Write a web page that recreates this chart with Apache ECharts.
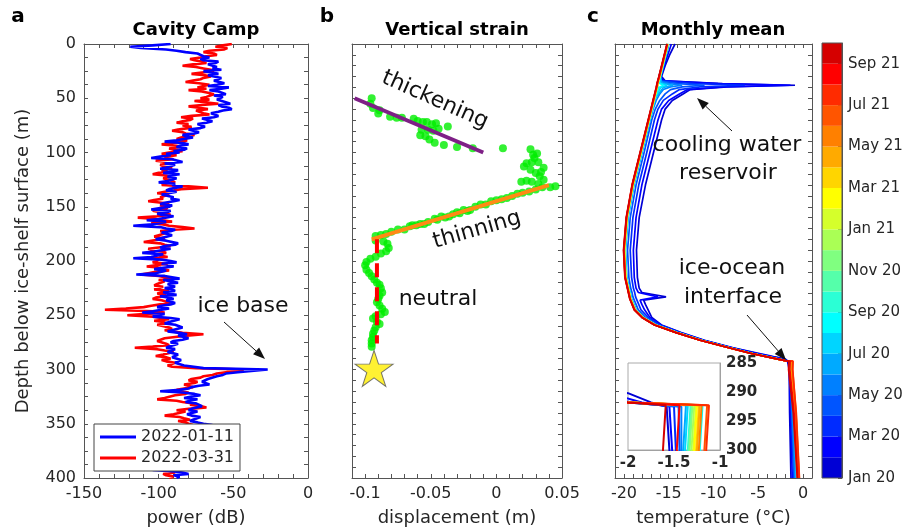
<!DOCTYPE html>
<html><head><meta charset="utf-8">
<script src="https://cdn.jsdelivr.net/npm/echarts@6/dist/echarts.min.js"></script>
<style>html,body{margin:0;padding:0;background:#fff}#c{width:905px;height:531px}</style>
</head><body><div id="c"></div><script>
// ---------------- Panel a : radar power profiles (depth step 1.25 m) ----------------
const depthA = [
0,1.25,2.5,3.75,5,6.25,7.5,8.75,10,11.25,12.5,13.75,15,16.25,17.5,18.75,20,21.25,22.5,23.75,
25,26.25,27.5,28.75,30,31.25,32.5,33.75,35,36.25,37.5,38.75,40,41.25,42.5,43.75,45,46.25,47.5,48.75,
50,51.25,52.5,53.75,55,56.25,57.5,58.75,60,61.25,62.5,63.75,65,66.25,67.5,68.75,70,71.25,72.5,73.75,
75,76.25,77.5,78.75,80,81.25,82.5,83.75,85,86.25,87.5,88.75,90,91.25,92.5,93.75,95,96.25,97.5,98.75,
100,101.25,102.5,103.75,105,106.25,107.5,108.75,110,111.25,112.5,113.75,115,116.25,117.5,118.75,120,121.25,122.5,123.75,
125,126.25,127.5,128.75,130,131.25,132.5,133.75,135,136.25,137.5,138.75,140,141.25,142.5,143.75,145,146.25,147.5,148.75,
150,151.25,152.5,153.75,155,156.25,157.5,158.75,160,161.25,162.5,163.75,165,166.25,167.5,168.75,170,171.25,172.5,173.75,
175,176.25,177.5,178.75,180,181.25,182.5,183.75,185,186.25,187.5,188.75,190,191.25,192.5,193.75,195,196.25,197.5,198.75,
200,201.25,202.5,203.75,205,206.25,207.5,208.75,210,211.25,212.5,213.75,215,216.25,217.5,218.75,220,221.25,222.5,223.75,
225,226.25,227.5,228.75,230,231.25,232.5,233.75,235,236.25,237.5,238.75,240,241.25,242.5,243.75,245,246.25,247.5,248.75,
250,251.25,252.5,253.75,255,256.25,257.5,258.75,260,261.25,262.5,263.75,265,266.25,267.5,268.75,270,271.25,272.5,273.75,
275,276.25,277.5,278.75,280,281.25,282.5,283.75,285,286.25,287.5,288.75,290,291.25,292.5,293.75,295,296.25,297.5,298.75,
300,301.25,302.5,303.75,305,306.25,307.5,308.75,310,311.25,312.5,313.75,315,316.25,317.5,318.75,320,321.25,322.5,323.75,
325,326.25,327.5,328.75,330,331.25,332.5,333.75,335,336.25,337.5,338.75,340,341.25,342.5,343.75,345,346.25,347.5,348.75,
350,351.25,352.5,353.75,355,356.25,357.5,358.75,360,361.25,362.5,363.75,365,366.25,367.5,368.75,370,371.25,372.5,373.75,
375,376.25,377.5,378.75,380,381.25,382.5,383.75,385,386.25,387.5,388.75,390,391.25,392.5,393.75,395,396.25,397.5,398.75,
400];
const power20220111 = [
-92,-104,-119,-112,-95,-88,-82,-74,-75,-70,-66,-72,-70,-60,-62,-67,-68,-61,-64,-58,
-70,-64,-60,-67,-66,-58,-57,-63,-64,-56,-61,-67,-53,-58,-66,-60,-59,-55,-63,-57,
-56,-61,-62,-55,-52,-60,-58,-53,-51,-57,-60,-65,-66,-60,-63,-71,-70,-64,-68,-74,
-75,-69,-72,-80,-79,-73,-76,-84,-82,-77,-78,-88,-96,-84,-80,-86,-88,-81,-83,-90,
-86,-95,-92,-99,-105,-91,-90,-84,-96,-89,-88,-95,-99,-87,-90,-97,-86,-92,-94,-88,
-88,-94,-100,-89,-91,-84,-85,-93,-95,-88,-89,-98,-97,-90,-92,-86,-90,-96,-99,-91,
-93,-99,-105,-92,-94,-101,-98,-90,-91,-100,-108,-95,-96,-104,-117,-99,-95,-89,-92,-98,
-97,-91,-90,-98,-102,-95,-94,-87,-89,-96,-99,-92,-93,-103,-111,-97,-96,-105,-117,-98,
-92,-88,-98,-93,-90,-97,-103,-95,-94,-102,-115,-96,-91,-86,-97,-92,-87,-94,-93,-89,
-96,-91,-89,-97,-94,-88,-99,-93,-90,-95,-96,-89,-92,-98,-101,-93,-94,-104,-111,-96,
-97,-104,-92,-86,-87,-93,-96,-89,-90,-84,-85,-91,-94,-86,-81,-87,-88,-80,-84,-90,
-92,-87,-86,-93,-95,-89,-88,-94,-93,-87,-86,-91,-90,-85,-84,-89,-88,-83,-82,-70,
-27,-38,-47,-55,-57,-61,-62,-67,-66,-71,-70,-66,-73,-78,-80,-86,-99,-84,-76,-72,
-78,-83,-74,-79,-82,-75,-76,-71,-72,-78,-80,-74,-75,-81,-78,-72,-73,-77,-79,-74,
-70,-64,-57,-68,-74,-79,-78,-84,-82,-77,-76,-81,-80,-66,-48,-72,-83,-79,-78,-84,
-85,-79,-80,-86,-88,-82,-83,-91,-90,-84,-86,-93,-92,-98,-104,-91,-84,-80,-90,-86,
-88];
const power20220331 = [
-51,-57,-62,-54,-56,-66,-70,-63,-61,-68,-72,-79,-76,-71,-68,-77,-84,-75,-70,-65,
-63,-71,-78,-69,-65,-70,-72,-77,-82,-73,-66,-70,-74,-68,-80,-71,-67,-63,-62,-68,
-72,-66,-76,-69,-60,-71,-80,-73,-67,-75,-74,-70,-66,-78,-85,-77,-79,-84,-88,-80,
-84,-78,-80,-87,-91,-84,-82,-76,-77,-85,-88,-81,-83,-91,-98,-88,-85,-93,-90,-84,
-93,-98,-88,-94,-96,-90,-102,-95,-92,-99,-97,-91,-90,-98,-94,-100,-104,-95,-92,-97,
-96,-91,-89,-95,-98,-80,-67,-85,-90,-96,-101,-93,-94,-99,-97,-103,-107,-98,-93,-99,
-100,-94,-96,-104,-103,-95,-92,-101,-114,-102,-97,-91,-105,-97,-93,-84,-76,-90,-99,-94,
-95,-100,-103,-96,-98,-104,-110,-99,-96,-92,-100,-107,-104,-97,-95,-101,-99,-94,-106,-100,
-99,-104,-94,-101,-108,-99,-97,-93,-102,-107,-112,-100,-96,-91,-100,-96,-95,-101,-103,-97,
-98,-103,-93,-97,-101,-95,-97,-102,-104,-98,-95,-92,-99,-105,-110,-122,-136,-103,-96,-108,
-121,-104,-98,-93,-103,-97,-94,-101,-100,-93,-91,-96,-97,-84,-70,-81,-89,-96,-95,-101,
-100,-95,-93,-104,-116,-101,-96,-90,-90,-97,-102,-95,-92,-98,-95,-89,-88,-94,-91,-75,
-43,-49,-55,-61,-64,-70,-72,-78,-80,-74,-76,-83,-84,-77,-78,-88,-86,-80,-82,-89,
-90,-96,-101,-88,-84,-77,-79,-72,-68,-80,-88,-82,-81,-90,-96,-86,-83,-79,-87,-82,
-80,-77,-75,-81,-83,-89,-86,-80,-79,-85,-84,-88,-90,-84,-85,-79,-81,-87,-88,-84,
-90,-85,-86,-94,-93,-87,-88,-96,-95,-106,-117,-99,-92,-100,-98,-91,-89,-97,-95,-90,
-93];
const legendNames = ['2022-01-11','2022-03-31'];

// ---------------- Panel b : vertical strain ----------------
const greenThickening = [[-0.095,50],[-0.096,55],[-0.094,59],[-0.090,64],[-0.089,61],[-0.081,67],[-0.076,68],[-0.072,68],[-0.063,69],[-0.060,71],[-0.056,72],[-0.053,72],[-0.049,74],[-0.046,73],[-0.044,78],[-0.037,76],[-0.057,79],[-0.052,79],[-0.048,80],[-0.058,84],[-0.054,85],[-0.051,88],[-0.047,91],[-0.040,93],[-0.030,95],[-0.018,96],[0.005,96]];
const greenUpperCluster = [[0.026,97],[0.028,102],[0.031,101],[0.023,110],[0.021,113],[0.027,109],[0.032,109],[0.036,114],[0.026,116],[0.030,119],[0.033,122],[0.019,127],[0.023,126],[0.027,127],[0.032,129],[0.041,132],[0.045,131],[0.036,125],[0.029,105],[0.034,118]];
const greenThinning = [[-0.092,177],[-0.088,176],[-0.084,175],[-0.080,173],[-0.075,171],[-0.070,171],[-0.066,168],[-0.064,167],[-0.061,167],[-0.058,166],[-0.055,166],[-0.052,164],[-0.047,161],[-0.045,162],[-0.042,159],[-0.039,160],[-0.036,159],[-0.033,157],[-0.030,155],[-0.028,156],[-0.025,153],[-0.022,154],[-0.020,153],[-0.016,150],[-0.012,148],[-0.008,148],[-0.004,145],[0.000,144],[0.004,143],[0.008,142],[0.012,140],[0.016,138],[0.020,137],[0.025,136],[0.030,134],[0.035,132]];
const greenNeutral = [[-0.092,181],[-0.086,182],[-0.083,184],[-0.082,188],[-0.084,191],[-0.088,193],[-0.092,196],[-0.096,198],[-0.099,201],[-0.100,204],[-0.099,208],[-0.097,211],[-0.095,214],[-0.093,217],[-0.091,220],[-0.089,222],[-0.088,225],[-0.087,229],[-0.089,232],[-0.090,235],[-0.091,238],[-0.089,241],[-0.087,244],[-0.085,247],[-0.088,249],[-0.092,251],[-0.094,253],[-0.091,256],[-0.089,258],[-0.092,261],[-0.093,264],[-0.094,267],[-0.094,270],[-0.095,273],[-0.095,276],[-0.095,279]];
const thickeningFit = [[-0.108,50],[-0.010,100]];
const thinningFit = [[-0.095,180],[0.040,130]];
const neutralFit = [[-0.091,180],[-0.091,276]];
const iceBaseStar = [[-0.0932,299]];
const tickValuesB = [-0.1,-0.05,0,0.05];
const tickLabelsB = ['-0.1','-0.05','0','0.05'];

// ---------------- Panel c : monthly mean temperature ----------------
const monthNames = ['Jan 20','Feb 20','Mar 20','Apr 20','May 20','Jun 20','Jul 20','Aug 20','Sep 20','Oct 20','Nov 20','Dec 20','Jan 21','Feb 21','Mar 21','Apr 21','May 21','Jun 21','Jul 21','Aug 21','Sep 21'];
const jetColors = ['#0000d5','#0000ff','#002bff','#0055ff','#0080ff','#00aaff','#00d5ff','#00ffff','#2bffd5','#55ffaa','#80ff80','#aaff55','#d5ff2b','#ffff00','#ffd500','#ffaa00','#ff8000','#ff5500','#ff2b00','#ff0000','#d50000'];
const colorbarLabels = ['Jan 20','Mar 20','May 20','Jul 20','Sep 20','Nov 20','Jan 21','Mar 21','May 21','Jul 21','Sep 21'];

const depthEarly = [0,10,20,30,34,36.5,38,39.5,42,46,52,60,70,100,130,160,190,215,225,229,233,236,240,245,252,259,266,273,280,285,288,290.2,291.8,292.5,300,340,400];
const tJan20 = [-14.3,-14.9,-15.4,-15.8,-15.4,-9.0,-0.9,-8.5,-12.6,-13.4,-14.6,-15.4,-15.8,-16.7,-17.6,-18.3,-18.6,-18.5,-18.3,-18.0,-15.3,-17.8,-17.6,-17.3,-16.9,-15.8,-13.6,-11.0,-7.8,-5.0,-3.3,-2.0,-1.75,-1.58,-1.55,-1.5,-1.35];
const tFeb20 = [-14.7,-15.1,-15.5,-15.9,-15.6,-9.5,-1.4,-9.0,-12.9,-13.8,-15.0,-15.8,-16.2,-17.1,-18.0,-18.65,-18.95,-18.85,-18.65,-18.4,-16.2,-18.2,-18.0,-17.7,-17.1,-15.9,-13.7,-11.1,-7.9,-5.2,-3.5,-2.2,-1.85,-1.55,-1.52,-1.4,-1.2];
const tMar20 = [-15.0,-15.3,-15.6,-16.0,-15.9,-12.0,-6.5,-11.5,-13.8,-14.6,-15.6,-16.2,-16.6,-17.45,-18.35,-19.0,-19.3,-19.15,-18.95,-18.8,-18.7,-18.55,-18.35,-18.1,-17.3,-16.0,-13.8,-11.2,-8.0,-5.5,-3.8,-2.6,-1.95,-1.5,-1.48,-1.3,-1.05];
const tApr20 = [-15.1,-15.4,-15.7,-16.05,-16.0,-14.0,-11.0,-13.5,-14.8,-15.4,-16.0,-16.5,-16.9,-17.75,-18.65,-19.3,-19.6,-19.45,-19.25,-19.1,-19.0,-18.85,-18.65,-18.4,-17.6,-16.2,-13.9,-11.3,-8.1,-5.7,-3.9,-2.7,-2.0,-1.45,-1.44,-1.25,-0.95];
const tMay20 = [-15.15,-15.45,-15.75,-16.1,-16.1,-15.0,-13.5,-14.8,-15.6,-16.0,-16.4,-16.75,-17.1,-18.0,-18.9,-19.55,-19.85,-19.7,-19.5,-19.35,-19.25,-19.1,-18.9,-18.65,-17.8,-16.4,-14.0,-11.4,-8.2,-5.8,-4.0,-2.8,-2.0,-1.42,-1.42,-1.2,-0.9];

const depthLate = [0,15,30,36,38,40,50,70,100,130,160,190,215,235,245,252,259,266,273,280,285,289,291.8,292.3,300,340,400];
const tJun20 = [-15.0,-15.45,-15.9,-15.8,-14.5,-15.6,-16.5,-17.1,-18.0,-18.9,-19.55,-19.85,-19.7,-19.15,-18.65,-17.8,-16.4,-14.0,-11.35,-8.2,-5.8,-3.5,-2.0,-1.37,-1.40,-1.1,-0.75];
const tJul20 = [-15.03,-15.48,-15.93,-16.0,-15.2,-15.9,-16.53,-17.13,-18.03,-18.93,-19.58,-19.88,-19.73,-19.18,-18.68,-17.83,-16.43,-14.03,-11.37,-8.22,-5.82,-3.52,-2.0,-1.35,-1.38,-1.05,-0.7];
const tAug20 = [-15.05,-15.5,-15.95,-16.1,-15.6,-16.1,-16.55,-17.15,-18.05,-18.95,-19.6,-19.9,-19.75,-19.2,-18.7,-17.85,-16.45,-14.05,-11.38,-8.23,-5.83,-3.53,-2.0,-1.19,-1.22,-0.9,-0.55];
const tSep20 = [-15.07,-15.52,-15.97,-16.17,-16.22,-16.27,-16.57,-17.17,-18.07,-18.97,-19.62,-19.92,-19.77,-19.22,-18.72,-17.87,-16.47,-14.07,-11.4,-8.24,-5.84,-3.54,-2.0,-1.32,-1.35,-1.0,-0.65];
const tOct20 = [-15.08,-15.53,-15.98,-16.18,-16.23,-16.28,-16.58,-17.18,-18.08,-18.98,-19.63,-19.93,-19.78,-19.23,-18.73,-17.88,-16.48,-14.08,-11.41,-8.25,-5.85,-3.55,-2.0,-1.31,-1.34,-0.98,-0.62];
const tNov20 = [-15.09,-15.54,-15.99,-16.19,-16.24,-16.29,-16.59,-17.19,-18.09,-18.99,-19.64,-19.94,-19.79,-19.24,-18.74,-17.89,-16.49,-14.09,-11.42,-8.26,-5.86,-3.56,-2.0,-1.3,-1.33,-0.96,-0.6];
const tDec20 = [-15.1,-15.55,-16.0,-16.2,-16.25,-16.3,-16.6,-17.2,-18.1,-19.0,-19.65,-19.95,-19.8,-19.25,-18.75,-17.9,-16.5,-14.1,-11.43,-8.27,-5.87,-3.57,-2.0,-1.28,-1.31,-0.94,-0.58];
const tJan21 = [-15.11,-15.56,-16.01,-16.21,-16.26,-16.31,-16.61,-17.21,-18.11,-19.01,-19.66,-19.96,-19.81,-19.26,-18.76,-17.91,-16.51,-14.11,-11.44,-8.27,-5.87,-3.57,-2.0,-1.26,-1.29,-0.92,-0.56];
const tFeb21 = [-15.12,-15.57,-16.02,-16.22,-16.27,-16.32,-16.62,-17.22,-18.12,-19.02,-19.67,-19.97,-19.82,-19.27,-18.77,-17.92,-16.52,-14.12,-11.45,-8.28,-5.88,-3.58,-2.0,-1.25,-1.28,-0.9,-0.54];
const tMar21 = [-15.13,-15.58,-16.03,-16.23,-16.28,-16.33,-16.63,-17.23,-18.13,-19.03,-19.68,-19.98,-19.83,-19.28,-18.78,-17.93,-16.53,-14.13,-11.46,-8.28,-5.88,-3.58,-2.0,-1.23,-1.26,-0.86,-0.5];
const tApr21 = [-15.14,-15.59,-16.04,-16.24,-16.29,-16.34,-16.64,-17.24,-18.14,-19.04,-19.69,-19.99,-19.84,-19.29,-18.79,-17.94,-16.54,-14.14,-11.47,-8.29,-5.89,-3.59,-2.0,-1.22,-1.25,-0.84,-0.48];
const tMay21 = [-15.15,-15.6,-16.05,-16.25,-16.3,-16.35,-16.65,-17.25,-18.15,-19.05,-19.7,-20.0,-19.85,-19.3,-18.8,-17.95,-16.55,-14.15,-11.48,-8.29,-5.89,-3.59,-2.0,-1.2,-1.23,-0.8,-0.45];
const tJun21 = [-15.16,-15.61,-16.06,-16.26,-16.31,-16.36,-16.66,-17.26,-18.16,-19.06,-19.71,-20.01,-19.86,-19.31,-18.81,-17.96,-16.56,-14.16,-11.48,-8.3,-5.9,-3.6,-2.0,-1.14,-1.17,-0.75,-0.4];
const tJul21 = [-15.17,-15.62,-16.07,-16.27,-16.32,-16.37,-16.67,-17.27,-18.17,-19.07,-19.72,-20.02,-19.87,-19.32,-18.82,-17.97,-16.57,-14.17,-11.49,-8.3,-5.9,-3.6,-2.0,-1.12,-1.15,-0.78,-0.42];
const tAug21 = [-15.18,-15.63,-16.08,-16.28,-16.33,-16.38,-16.68,-17.28,-18.18,-19.08,-19.73,-20.03,-19.88,-19.33,-18.83,-17.98,-16.58,-14.18,-11.5,-8.3,-5.9,-3.6,-2.0,-1.44,-1.47,-1.0,-0.6];
const tSep21 = [-15.2,-15.65,-16.1,-16.3,-16.35,-16.4,-16.7,-17.3,-18.2,-19.1,-19.75,-20.05,-19.9,-19.35,-18.85,-18.0,-16.6,-14.2,-11.5,-8.3,-5.9,-3.6,-2.0,-1.59,-1.62,-1.1,-0.65];

const monthlyProfiles = [
  [depthEarly,tJan20],[depthEarly,tFeb20],[depthEarly,tMar20],[depthEarly,tApr20],[depthEarly,tMay20],
  [depthLate,tJun20],[depthLate,tJul20],[depthLate,tAug20],[depthLate,tSep20],[depthLate,tOct20],
  [depthLate,tNov20],[depthLate,tDec20],[depthLate,tJan21],[depthLate,tFeb21],[depthLate,tMar21],
  [depthLate,tApr21],[depthLate,tMay21],[depthLate,tJun21],[depthLate,tJul21],[depthLate,tAug21],[depthLate,tSep21]
];

// ---------------- styling helpers ----------------
const FONT = '"DejaVu Sans", sans-serif';
const AX = '#555';
const TXT = '#262626';
function axis(o) {
  return Object.assign({
    type: 'value',
    axisLine: {show: true, onZero: false, lineStyle: {color: AX, width: 1}},
    axisTick: {show: true, inside: true, length: 4, lineStyle: {color: AX}},
    splitLine: {show: false},
    axisLabel: {show: false}
  }, o);
}
function lbl(fmt, extra) {
  return Object.assign({show: true, fontSize: 16, fontFamily: FONT, color: TXT, margin: 8, formatter: fmt}, extra || {});
}
const depthFmt = v => (v % 50 === 0 ? String(v) : '');

const xAxes = [
  axis({gridIndex: 0, position: 'bottom', min: -150, max: 0, interval: 10,
        axisLabel: lbl(v => (Math.round(v) % 50 === 0 ? String(Math.round(v)) : '')),
        name: 'power (dB)', nameLocation: 'middle', nameGap: 31,
        nameTextStyle: {fontSize: 18, fontFamily: FONT, color: TXT}}),
  axis({gridIndex: 0, position: 'top', min: -150, max: 0, interval: 10}),
  axis({gridIndex: 1, position: 'bottom', min: -0.11, max: 0.05, interval: 0.01,
        axisLabel: lbl(v => { const k = Math.round(v * 100); const i = tickValuesB.findIndex(t => Math.round(t * 100) === k); return i >= 0 ? tickLabelsB[i] : ''; }),
        name: 'displacement (m)', nameLocation: 'middle', nameGap: 31,
        nameTextStyle: {fontSize: 18, fontFamily: FONT, color: TXT}}),
  axis({gridIndex: 1, position: 'top', min: -0.11, max: 0.05, interval: 0.01}),
  axis({gridIndex: 2, position: 'bottom', min: -21, max: 1, interval: 1,
        axisLabel: lbl(v => (Math.round(v) % 5 === 0 ? String(Math.round(v)) : '')),
        name: 'temperature (°C)', nameLocation: 'middle', nameGap: 31,
        nameTextStyle: {fontSize: 18, fontFamily: FONT, color: TXT}}),
  axis({gridIndex: 2, position: 'top', min: -21, max: 1, interval: 1}),
  axis({gridIndex: 3, position: 'bottom', min: -2, max: -1, interval: 0.5,
        axisLine: {show: true, onZero: false, lineStyle: {color: '#999'}},
        axisTick: {show: true, inside: true, length: 3, lineStyle: {color: '#999'}},
        splitLine: {show: true, lineStyle: {color: '#d8d8d8'}},
        axisLabel: lbl(v => String(v), {fontSize: 15, fontWeight: 'bold', margin: 6})}),
  {type: 'value', gridIndex: 4, min: 0, max: 1, show: false}
];
const yAxes = [
  axis({gridIndex: 0, position: 'left', min: 0, max: 400, interval: 12.5, inverse: true,
        axisLabel: lbl(depthFmt),
        name: 'Depth below ice-shelf surface (m)', nameLocation: 'middle', nameGap: 52, nameRotate: 90,
        nameTextStyle: {fontSize: 18, fontFamily: FONT, color: TXT}}),
  axis({gridIndex: 0, position: 'right', min: 0, max: 400, interval: 12.5, inverse: true}),
  axis({gridIndex: 1, position: 'left', min: 0, max: 400, interval: 10, inverse: true}),
  axis({gridIndex: 1, position: 'right', min: 0, max: 400, interval: 10, inverse: true}),
  axis({gridIndex: 2, position: 'left', min: 0, max: 400, interval: 10, inverse: true}),
  axis({gridIndex: 2, position: 'right', min: 0, max: 400, interval: 10, inverse: true}),
  axis({gridIndex: 3, position: 'right', min: 285, max: 300, interval: 5, inverse: true,
        axisLine: {show: true, onZero: false, lineStyle: {color: '#999'}},
        axisTick: {show: true, inside: true, length: 3, lineStyle: {color: '#999'}},
        splitLine: {show: true, lineStyle: {color: '#d8d8d8'}},
        axisLabel: lbl(v => String(v), {fontSize: 15, fontWeight: 'bold', margin: 6})}),
  {type: 'category', gridIndex: 4, data: monthNames, show: false},
  axis({gridIndex: 4, position: 'right', min: 0, max: 21, interval: 2,
        axisLabel: lbl(v => (v % 2 === 0 && v / 2 < colorbarLabels.length ? colorbarLabels[v / 2] : ''), {fontSize: 15, margin: 6})})
];

const grids = [
  {left: 84, top: 44, width: 224, height: 434},
  {left: 352, top: 44, width: 210, height: 434},
  {left: 615, top: 44, width: 197, height: 434},
  {left: 628, top: 363, width: 92, height: 87, show: true, backgroundColor: '#fff', borderColor: '#aaa', borderWidth: 1, z: 5},
  {left: 822, top: 43, width: 20, height: 435, show: true, borderColor: '#555', borderWidth: 1, backgroundColor: 'transparent', z: 3}
].map(g => Object.assign({containLabel: false, outerBoundsMode: 'none'}, g));

const series = [];
series.push({name: legendNames[1], type: 'line', xAxisIndex: 0, yAxisIndex: 0, symbol: 'none', color: '#ff0000',
  lineStyle: {color: '#ff0000', width: 2.6}, data: depthA.map((d, i) => [power20220331[i], d]), z: 2});
series.push({name: legendNames[0], type: 'line', xAxisIndex: 0, yAxisIndex: 0, symbol: 'none', color: '#0000ff',
  lineStyle: {color: '#0000ff', width: 2.6}, data: depthA.map((d, i) => [power20220111[i], d]), z: 3});
const green = {type: 'scatter', xAxisIndex: 2, yAxisIndex: 2, symbol: 'circle', symbolSize: 8, itemStyle: {color: '#00ee00'}, z: 2};
[greenThickening, greenUpperCluster, greenThinning, greenNeutral].forEach(arr => series.push(Object.assign({}, green, {data: arr})));
series.push({type: 'line', xAxisIndex: 2, yAxisIndex: 2, symbol: 'none', data: thickeningFit, lineStyle: {color: '#7e1f86', width: 4}, z: 3});
series.push({type: 'line', xAxisIndex: 2, yAxisIndex: 2, symbol: 'none', data: thinningFit, lineStyle: {color: '#ff8a14', width: 4}, z: 3});
series.push({type: 'line', xAxisIndex: 2, yAxisIndex: 2, symbol: 'none', data: neutralFit, lineStyle: {color: '#ff0000', width: 4, type: [14, 10]}, z: 3});
series.push({type: 'scatter', xAxisIndex: 2, yAxisIndex: 2, data: iceBaseStar, z: 4,
  symbol: 'path://M50,0 L61.8,36.2 L100,36.2 L69.1,58.6 L80.9,95 L50,72.4 L19.1,95 L30.9,58.6 L0,36.2 L38.2,36.2 Z',
  symbolSize: [38, 36], itemStyle: {color: '#ffee00', borderColor: '#555', borderWidth: 1}});
monthlyProfiles.forEach((p, i) => {
  const data = p[0].map((d, j) => [p[1][j], d]);
  series.push({name: monthNames[i], type: 'line', xAxisIndex: 4, yAxisIndex: 4, symbol: 'none', data,
    lineStyle: {color: jetColors[i], width: 1.7}, z: 2});
  series.push({name: monthNames[i], type: 'line', xAxisIndex: 6, yAxisIndex: 6, symbol: 'none', data, clip: true,
    lineStyle: {color: jetColors[i], width: 2}, z: 6});
});
series.push({type: 'bar', xAxisIndex: 7, yAxisIndex: 7, barCategoryGap: '0%', barWidth: '100%',
  data: jetColors.map(c => ({value: 1, itemStyle: {color: c}})), z: 2});

function text(t, x, y, size, opts) {
  return Object.assign({type: 'text', x, y, z: 100,
    style: {text: t, fontSize: size, fontFamily: FONT, fill: '#111', align: 'center', verticalAlign: 'middle'}}, opts || {});
}
function bold(t, x, y, size) {
  const e = text(t, x, y, size); e.style.fontWeight = 'bold'; e.style.fill = '#000'; return e;
}
function arrow(x1, y1, x2, y2) {
  const a = Math.atan2(y2 - y1, x2 - x1), L = 12, W = 4.5;
  const bx = x2 - L * Math.cos(a), by = y2 - L * Math.sin(a);
  const px = -Math.sin(a) * W, py = Math.cos(a) * W;
  return [
    {type: 'line', z: 100, shape: {x1, y1, x2: bx, y2: by}, style: {stroke: '#111', lineWidth: 1}},
    {type: 'polygon', z: 100, shape: {points: [[x2, y2], [bx + px, by + py], [bx - px, by - py]]}, style: {fill: '#111'}}
  ];
}
const graphics = [
  bold('a', 18, 17, 20), bold('b', 327, 17, 20), bold('c', 593, 17, 20),
  bold('Cavity Camp', 196, 30, 18), bold('Vertical strain', 457, 30, 18), bold('Monthly mean', 713, 30, 18),
  text('ice base', 243, 306, 22),
  ...arrow(224, 322, 265, 359),
  Object.assign(text('thickening', 435, 100, 22), {rotation: -24 * Math.PI / 180}),
  Object.assign(text('thinning', 477, 230, 22), {rotation: 16 * Math.PI / 180}),
  text('neutral', 438, 299, 22),
  text('cooling water', 727, 145, 22),
  text('reservoir', 728, 173, 22),
  ...arrow(732, 131, 697, 98),
  text('ice-ocean', 732, 268, 22),
  text('interface', 733, 297, 22),
  ...arrow(747, 315, 786, 360)
];

const chart = echarts.init(document.getElementById('c'), null, {renderer: 'canvas'});
chart.setOption({
  animation: false,
  backgroundColor: '#fff',
  textStyle: {fontFamily: FONT},
  grid: grids,
  xAxis: xAxes,
  yAxis: yAxes,
  legend: {data: legendNames, left: 94, top: 424, orient: 'vertical', icon: 'rect', itemWidth: 36, itemHeight: 3,
    itemGap: 5, padding: [5, 6, 5, 6], borderColor: '#444', borderWidth: 1, backgroundColor: '#fff', z: 10,
    textStyle: {fontSize: 16, fontFamily: FONT, color: TXT}},
  series,
  graphic: graphics
});
</script></body></html>
